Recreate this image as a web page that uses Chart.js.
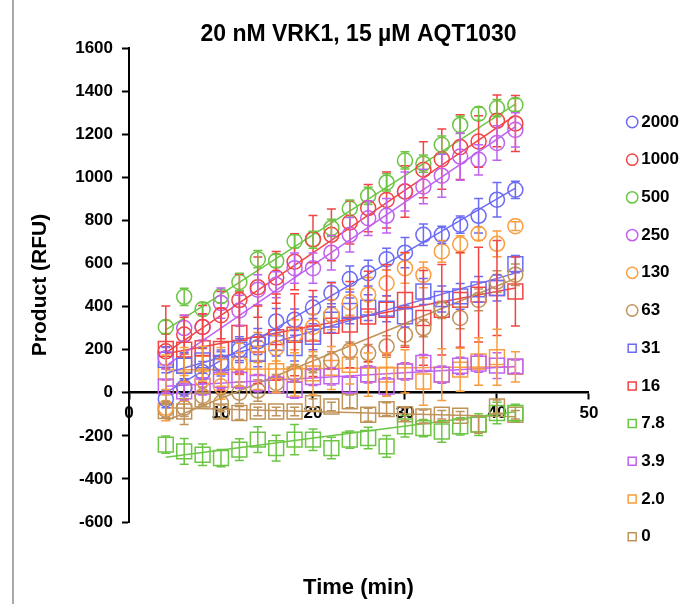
<!DOCTYPE html>
<html>
<head>
<meta charset="utf-8">
<script src="https://cdn.jsdelivr.net/npm/chart.js@4"></script>
<style>
  html, body { margin: 0; padding: 0; background: #fff; }
  #wrap { width: 698px; height: 604px; position: relative; }
</style>
</head>
<body>
<div id="wrap"><canvas id="chart"></canvas></div>
<script>
// time points (min)
const times = [4, 6, 8, 10, 12, 14, 16, 18, 20, 22, 24, 26, 28, 30, 32, 34, 36, 38, 40, 42];

// legend labels (concentration)
const seriesLabels = ["2000", "1000", "500", "250", "130", "63", "31", "16", "7.8", "3.9", "2.0", "0"];

// product (RFU), one list per concentration
const rfu2000 = [-30, 25, 95, 140, 200, 238, 331, 339, 395, 463, 528, 555, 620, 650, 733, 733, 780, 821, 896, 942];
const rfu1000 = [192, 270, 305, 360, 430, 490, 535, 608, 713, 733, 790, 857, 895, 934, 1035, 1084, 1140, 1166, 1262, 1250];
const rfu500 = [305, 445, 388, 448, 514, 620, 612, 703, 710, 765, 855, 914, 976, 1078, 1063, 1151, 1243, 1295, 1321, 1336];
const rfu250 = [160, 300, 305, 416, 382, 478, 501, 578, 578, 650, 733, 810, 821, 934, 957, 1007, 1096, 1081, 1159, 1220];
const rfu130 = [-70, 20, 60, 30, 135, 210, 207, 269, 305, 362, 420, 455, 508, 578, 547, 656, 689, 738, 691, 773];
const rfu63 = [-79, -70, -15, -48, 0, 10, 45, 91, 133, 150, 196, 184, 215, 269, 300, 385, 347, 431, 516, 548];
const rfu31 = [153, 125, 150, 138, 200, 180, 230, 207, 260, 339, 380, 395, 390, 355, 470, 435, 447, 480, 486, 597];
const rfu16 = [203, 200, 207, 203, 277, 223, 258, 269, 275, 311, 316, 354, 385, 431, 347, 385, 431, 455, 486, 470];
const rfu7_8 = [-241, -272, -288, -303, -264, -218, -257, -218, -218, -257, -218, -210, -249, -156, -164, -180, -156, -148, -94, -94];
const rfu3_9 = [29, 6, 29, 60, 60, 45, 37, 14, 73, 76, 37, 85, 29, 99, 138, 84, 125, 135, 126, 122];
const rfu2_0 = [95, 130, 135, 120, 130, 115, 100, 85, 90, 115, 130, 84, 84, 99, 52, 84, 107, 145, 165, 120];
const rfu0 = [-85, -87, -32, -87, -94, -87, -87, -87, -48, -64, -40, -102, -76, -100, -110, -102, -107, -148, -64, -102];

// error bar half-heights
const err2000 = [40, 40, 50, 50, 50, 60, 60, 50, 50, 50, 60, 60, 50, 70, 50, 40, 40, 80, 80, 40];
const err1000 = [80, 90, 100, 110, 120, 140, 120, 130, 110, 120, 100, 110, 130, 120, 130, 140, 150, 120, 120, 130];
const err500 = [30, 40, 30, 30, 40, 40, 30, 30, 40, 40, 40, 40, 40, 40, 40, 40, 40, 30, 40, 30];
const err250 = [50, 60, 60, 70, 70, 70, 60, 70, 70, 80, 80, 80, 80, 90, 80, 100, 110, 70, 80, 80];
const err130 = [60, 60, 50, 60, 50, 70, 60, 70, 60, 70, 60, 80, 60, 70, 60, 50, 40, 30, 60, 20];
const err63 = [40, 40, 40, 40, 50, 50, 40, 40, 40, 40, 40, 40, 50, 50, 40, 40, 50, 50, 50, 50];
const err31 = [60, 60, 60, 60, 60, 60, 60, 60, 60, 60, 60, 60, 60, 50, 60, 60, 60, 60, 60, 40];
const err16 = [200, 150, 160, 190, 190, 180, 200, 190, 200, 200, 200, 210, 210, 220, 220, 210, 220, 220, 220, 160];
const err7_8 = [40, 60, 50, 40, 50, 60, 60, 70, 50, 50, 40, 50, 50, 50, 40, 50, 40, 50, 50, 40];
const err3_9 = [30, 40, 40, 40, 40, 40, 40, 40, 40, 40, 40, 40, 40, 40, 40, 40, 40, 40, 60, 30];
const err2_0 = [80, 80, 80, 90, 100, 100, 100, 100, 100, 100, 90, 100, 100, 100, 110, 120, 100, 110, 130, 70];
const err0 = [30, 60, 30, 30, 30, 20, 20, 20, 20, 20, 30, 30, 30, 30, 30, 20, 20, 40, 30, 20];

// linear fit lines: value at first and last time point (null = no line)
const fitStart = [0, 185, 292, 125, null, -130, 90, 181, -300, 30, 105, -70];
const fitEnd = [950, 1288, 1340, 1235, null, 530, 555, 486, -88, 122, 120, -112];

const allValues = [rfu2000, rfu1000, rfu500, rfu250, rfu130, rfu63, rfu31, rfu16, rfu7_8, rfu3_9, rfu2_0, rfu0];
const allErrors = [err2000, err1000, err500, err250, err130, err63, err31, err16, err7_8, err3_9, err2_0, err0];

const palette = ["#6b6bf5", "#f24444", "#6cc644", "#c062f0", "#f99d3e", "#c0935a"];

Chart.defaults.font.family = "'Liberation Sans', Arial, sans-serif";
Chart.defaults.color = "#000";

const pointSets = allValues.map((vals, s) => {
  const isCircle = s < 6;
  return {
    label: seriesLabels[s],
    data: times.map((t, i) => ({ x: t, y: vals[i] })),
    errors: allErrors[s],
    showLine: false,
    pointStyle: isCircle ? "circle" : "rect",
    pointRadius: isCircle ? 7.5 : 10.5,
    pointBorderWidth: 1.5,
    borderWidth: 1.5,
    borderColor: palette[s % 6],
    backgroundColor: "rgba(255,255,255,0)",
  };
});

const fitSets = [];
fitStart.forEach((v, s) => {
  if (v === null) return;
  fitSets.push({
    label: "",
    data: [
      { x: times[0], y: v },
      { x: times[times.length - 1], y: fitEnd[s] },
    ],
    showLine: true,
    pointRadius: 0,
    borderWidth: 1.5,
    borderColor: palette[s % 6],
    backgroundColor: palette[s % 6],
  });
});

// error bars drawn from each dataset's errors list
const errorBars = {
  id: "errorBars",
  afterDatasetsDraw(chart) {
    const { ctx } = chart;
    const yScale = chart.scales.y;
    chart.data.datasets.forEach((ds, di) => {
      if (!ds.errors) return;
      const meta = chart.getDatasetMeta(di);
      ctx.save();
      ctx.strokeStyle = ds.borderColor;
      ctx.lineWidth = 1.5;
      meta.data.forEach((pt, i) => {
        const v = ds.data[i].y;
        const e = ds.errors[i];
        const top = yScale.getPixelForValue(v + e);
        const bot = yScale.getPixelForValue(v - e);
        ctx.beginPath();
        ctx.moveTo(pt.x, top);
        ctx.lineTo(pt.x, bot);
        ctx.moveTo(pt.x - 4.5, top);
        ctx.lineTo(pt.x + 4.5, top);
        ctx.moveTo(pt.x - 4.5, bot);
        ctx.lineTo(pt.x + 4.5, bot);
        ctx.stroke();
      });
      ctx.restore();
    });
  },
};

// white background and the thin frame line on the left
const frame = {
  id: "frame",
  beforeDraw(chart) {
    const { ctx, width, height } = chart;
    ctx.save();
    ctx.fillStyle = "#fff";
    ctx.fillRect(0, 0, width, height);
    ctx.strokeStyle = "#8c8c8c";
    ctx.lineWidth = 1.5;
    ctx.beginPath();
    ctx.moveTo(13, 0);
    ctx.lineTo(13, height);
    ctx.stroke();
    ctx.restore();
  },
};

const tickFont = { size: 17, weight: "bold" };

new Chart(document.getElementById("chart"), {
  type: "scatter",
  data: { datasets: [...pointSets, ...fitSets] },
  options: {
    responsive: true,
    maintainAspectRatio: false,
    animation: false,
    layout: { padding: { left: 28, right: 9, top: 0, bottom: 0 } },
    scales: {
      x: {
        type: "linear",
        min: 0,
        max: 50,
        position: { y: 0 },
        ticks: { stepSize: 10, font: tickFont, color: "#000", padding: 4, maxRotation: 0 },
        grid: { display: true, drawOnChartArea: false, drawTicks: true, tickLength: 6, tickWidth: 2, tickColor: "#000" },
        border: { display: true, color: "#000", width: 2.5 },
      },
      y: {
        type: "linear",
        min: -600,
        max: 1600,
        ticks: { stepSize: 200, font: tickFont, color: "#000", padding: 9, callback: (v) => String(v) },
        grid: { display: true, drawOnChartArea: false, drawTicks: true, tickLength: 7, tickWidth: 2, tickColor: "#000" },
        border: { display: true, color: "#000", width: 2 },
        title: { display: true, text: "Product (RFU)", color: "#000", font: { size: 21, weight: "bold" }, padding: 0 },
        afterFit(scale) { scale.width = 101; },
      },
      gap: {
        type: "linear",
        position: "right",
        display: true,
        grid: { display: false },
        border: { display: false },
        ticks: { display: false },
        afterFit(scale) { scale.width = 22; },
      },
    },
    plugins: {
      title: {
        display: true,
        text: "20 nM VRK1, 15 µM AQT1030",
        color: "#000",
        font: { size: 23, weight: "bold" },
        padding: { top: 20.4, bottom: 0 },
      },
      subtitle: {
        display: true,
        position: "bottom",
        text: "Time (min)",
        color: "#000",
        font: { size: 22, weight: "bold" },
        padding: { top: 52.8, bottom: 2.8 },
      },
      legend: {
        position: "right",
        align: "start",
        title: { display: true, text: " ", font: { size: 10, lineHeight: 1 }, padding: { top: 82.8, bottom: 0 } },
        labels: {
          filter: (item) => item.text !== "",
          usePointStyle: true,
          boxWidth: 1,
          boxHeight: 8,
          padding: 20.7,
          color: "#000",
          font: { size: 17, weight: "bold" },
        },
      },
      tooltip: { enabled: false },
    },
  },
  plugins: [frame, errorBars],
});
</script>
</body>
</html>
